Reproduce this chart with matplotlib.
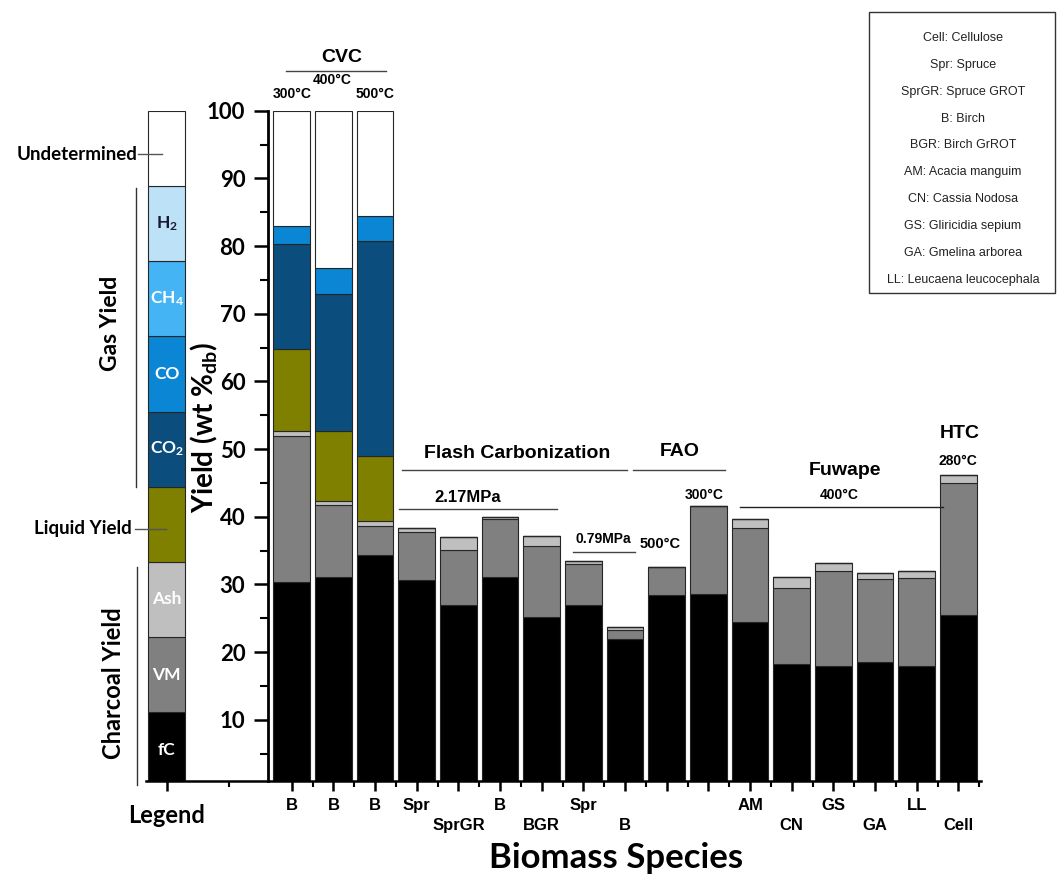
import matplotlib
matplotlib.use('Agg')
import matplotlib.pyplot as plt
import numpy as np
from matplotlib.patches import Rectangle

plt.rcParams['font.family'] = ['Lato', 'DejaVu Sans']
plt.rcParams['font.weight'] = 'bold'
plt.rcParams['mathtext.default'] = 'regular'

# biomass species under each bar (row 1 = lower line of labels)
species = ['B', 'B', 'B', 'Spr', 'SprGR', 'B', 'BGR', 'Spr', 'B', '', '',
           'AM', 'CN', 'GS', 'GA', 'LL', 'Cell']
label_row = [0, 0, 0, 0, 1, 0, 1, 0, 1, 0, 0, 0, 1, 0, 1, 0, 1]

# yields, wt % db
fC = [30.4, 31.1, 34.3, 30.6, 27.0, 31.1, 25.2, 27.0, 21.9, 28.5, 28.6,
      24.5, 18.3, 17.9, 18.5, 18.0, 25.5]
VM = [21.5, 10.6, 4.35, 7.2, 8.1, 8.5, 10.45, 6.0, 1.4, 4.15, 13.0,
      13.8, 11.1, 14.1, 12.3, 13.0, 19.5]
ash = [0.8, 0.7, 0.75, 0.5, 1.9, 0.4, 1.45, 0.5, 0.4, 0.0, 0.0,
       1.35, 1.7, 1.1, 0.95, 1.05, 1.2]
liquid = [12.1, 10.3, 9.6, 0, 0, 0, 0, 0, 0, 0, 0, 0, 0, 0, 0, 0, 0]
co2 = [15.5, 20.25, 31.8, 0, 0, 0, 0, 0, 0, 0, 0, 0, 0, 0, 0, 0, 0]
co = [2.6, 3.8, 3.7, 0, 0, 0, 0, 0, 0, 0, 0, 0, 0, 0, 0, 0, 0]
undetermined = [17.1, 23.25, 15.5, 0, 0, 0, 0, 0, 0, 0, 0, 0, 0, 0, 0, 0, 0]

# legend column
legend_labels = ['fC', 'VM', 'Ash', '', 'CO$_2$', 'CO', 'CH$_4$', 'H$_2$', '']
legend_share = [11.11, 11.11, 11.11, 11.11, 11.11, 11.11, 11.11, 11.11, 11.12]

abbrev = ['Cell: Cellulose', 'Spr: Spruce', 'SprGR: Spruce GROT', 'B: Birch',
          'BGR: Birch GrROT', 'AM: Acacia manguim', 'CN: Cassia Nodosa',
          'GS: Gliricidia sepium', 'GA: Gmelina arborea',
          'LL: Leucaena leucocephala']

c_fc = '#000000'
c_vm = '#808080'
c_ash = '#bfbfbf'
c_liq = '#7f7f00'
c_co2 = '#0b4e7d'
c_co = '#0a86d4'
c_ch4 = '#45b4f5'
c_h2 = '#bde2f8'
c_und = '#ffffff'
edge = '#262626'

W, H = 1058, 876
fig = plt.figure(figsize=(W / 100, H / 100), dpi=100)
ax = fig.add_axes([145.9 / W, 95.3 / H, 835.4 / W, 670 / H])

x = np.arange(len(species))
bottom = np.zeros(len(x))
for vals, col in zip([fC, VM, ash, liquid, co2, co, undetermined],
                     [c_fc, c_vm, c_ash, c_liq, c_co2, c_co, c_und]):
    ax.bar(x, vals, 0.88, bottom=bottom, color=col, edgecolor=edge, linewidth=0.8)
    bottom += np.array(vals)

# legend bar
leg_cols = [c_fc, c_vm, c_ash, c_liq, c_co2, c_co, c_ch4, c_h2, c_und]
b = 0
for s, col, lab in zip(legend_share, leg_cols, legend_labels):
    ax.bar(-3, s, 0.88, bottom=b, color=col, edgecolor=edge, linewidth=0.8)
    tc = '#1a1a2e' if col == c_h2 else 'white'
    ax.text(-3, b + s / 2, lab, ha='center', va='center', color=tc, fontsize=12.5)
    b += s

ax.set_xlim(-3.5, 16.55)
ax.set_ylim(1, 100)
for sp in ['top', 'right']:
    ax.spines[sp].set_visible(False)
ax.spines['left'].set_position(('data', -0.58))
ax.spines['left'].set_linewidth(2)
ax.spines['bottom'].set_linewidth(1.8)

ax.set_yticks(np.arange(10, 101, 10))
ax.set_yticks(np.arange(5, 100, 10), minor=True)
ax.tick_params(axis='y', which='major', length=10, width=1.8, labelsize=16, pad=6)
ax.tick_params(axis='y', which='minor', length=6, width=1.5)

ax.set_xticks([-3] + list(x))
ax.set_xticks([-1.5] + list(x[:-1] + 0.5) + [16.5], minor=True)
ax.tick_params(axis='x', which='major', length=7, width=1.8, labelbottom=False)
ax.tick_params(axis='x', which='minor', length=4.5, width=1.5)

for xi, name, row in zip(x, species, label_row):
    ax.annotate(name, xy=(xi, 0), xycoords=('data', 'axes fraction'),
                xytext=(0, -17.5 - 15 * row), textcoords='offset points',
                ha='center', va='center', fontsize=12, family='Liberation Sans',
                weight='bold')
ax.annotate('Legend', xy=(-3, 0), xycoords=('data', 'axes fraction'),
            xytext=(0, -24.7), textcoords='offset points',
            ha='center', va='center', fontsize=17)
ax.annotate('Biomass Species', xy=(7.78, 0), xycoords=('data', 'axes fraction'),
            xytext=(0, -55.6), textcoords='offset points',
            ha='center', va='center', fontsize=25)

fig.text(204 / W, 1 - 428 / H, 'Yield (wt %$_{db}$)', rotation=90,
         ha='center', va='center', fontsize=20)

# group annotations
arial = dict(family='Liberation Sans', weight='bold', ha='center', va='center')
ax.text(1.21, 107.9, 'CVC', fontsize=14, **arial)
ax.plot([-0.14, 2.26], [105.8, 105.8], color='#444', lw=1, clip_on=False)
ax.text(0.97, 104.6, '400°C', fontsize=10, **arial)
ax.text(0.01, 102.4, '300°C', fontsize=10, **arial)
ax.text(2.0, 102.4, '500°C', fontsize=10, **arial)

ax.text(5.41, 49.3, 'Flash Carbonization', fontsize=14, **arial)
ax.plot([2.65, 8.05], [46.9, 46.9], color='#444', lw=1)
ax.text(4.23, 42.9, '2.17MPa', fontsize=12, **arial)
ax.plot([2.58, 6.37], [41.2, 41.2], color='#444', lw=1)
ax.text(7.47, 36.7, '0.79MPa', fontsize=10, **arial)
ax.plot([6.75, 8.24], [34.8, 34.8], color='#444', lw=1)

ax.text(8.84, 36.0, '500°C', fontsize=10.5, **arial)
ax.text(9.32, 49.6, 'FAO', fontsize=14, **arial)
ax.plot([8.19, 10.4], [46.9, 46.9], color='#444', lw=1)
ax.text(9.89, 43.2, '300°C', fontsize=10, **arial)

ax.text(13.28, 46.9, 'Fuwape', fontsize=14, **arial)
ax.text(13.14, 43.2, '400°C', fontsize=10, **arial)
ax.plot([10.76, 15.63], [41.5, 41.5], color='#222', lw=1)
ax.text(16.04, 52.3, 'HTC', fontsize=14, **arial)
ax.text(15.99, 48.2, '280°C', fontsize=10, **arial)

# legend column annotations
ax.text(-3.71, 93.6, 'Undetermined', ha='right', va='center', fontsize=13.5)
ax.plot([-3.69, -3.11], [93.6, 93.6], color='#555', lw=1, clip_on=False)
ax.text(-4.36, 68.6, 'Gas Yield', rotation=90, ha='center', va='center', fontsize=16.5)
ax.plot([-3.74, -3.74], [88.6, 44.4], color='#333', lw=1, clip_on=False)
ax.text(-3.83, 38.2, 'Liquid Yield', ha='right', va='center', fontsize=13.5)
ax.plot([-3.76, -3.02], [38.2, 38.2], color='#555', lw=1, clip_on=False)
ax.text(-4.27, 15.4, 'Charcoal Yield', rotation=90, ha='center', va='center', fontsize=17)
ax.plot([-3.71, -3.71], [32.6, 0.4], color='#333', lw=1, clip_on=False)

# abbreviation box
fig.add_artist(Rectangle((869 / W, 1 - 293 / H), 186 / W, 281 / H,
                         transform=fig.transFigure, fill=False,
                         edgecolor='#333', lw=1))
for i, t in enumerate(abbrev):
    fig.text(963 / W, 1 - (38.3 + 26.8 * i) / H, t, ha='center', va='center',
             fontsize=9, family='Liberation Sans', weight='normal', color='#222')

fig.savefig('out.png', dpi=100)
